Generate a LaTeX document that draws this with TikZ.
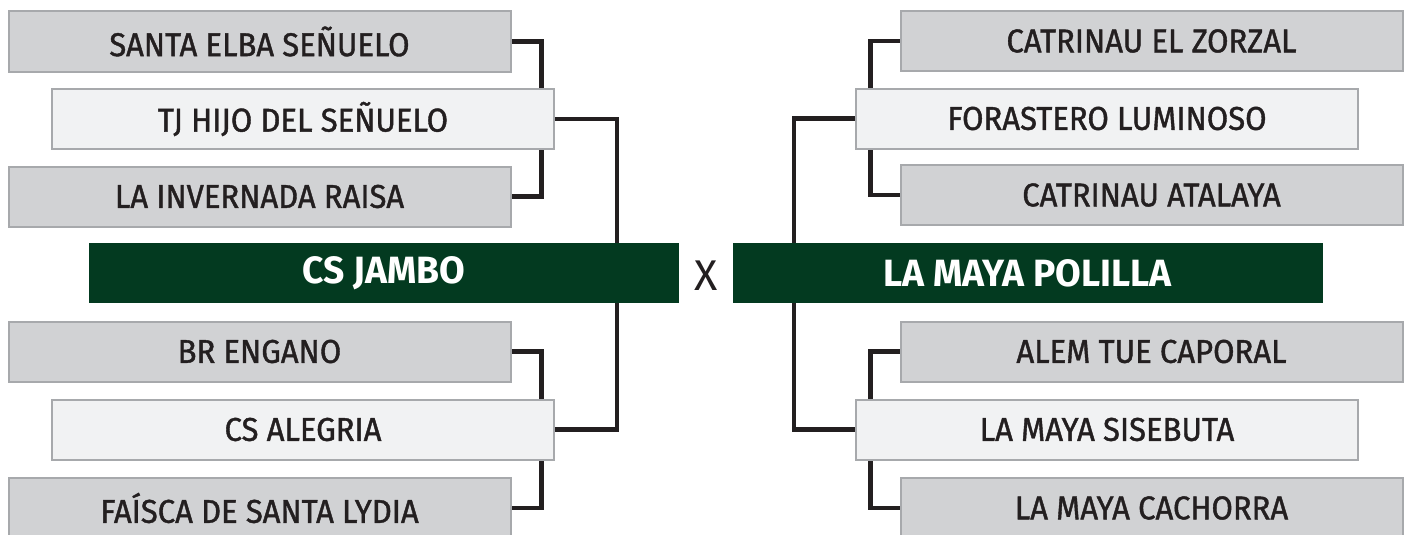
\documentclass[tikz,border=0pt]{standalone}
\usepackage{fontspec}
\setmainfont{Fira Sans}
\newfontfamily\boxfont[FakeStretch=0.94,FakeBold=1.2]{Fira Sans}
\newfontfamily\teamfont[FakeStretch=0.98]{Fira Sans}
\usetikzlibrary{backgrounds}
\definecolor{grayfill}{HTML}{D1D2D4}
\definecolor{lightfill}{HTML}{F1F2F3}
\definecolor{boxline}{HTML}{A7A9AC}
\definecolor{darkgreen}{HTML}{033A20}
\definecolor{txt}{HTML}{231F20}
\begin{document}
\begin{tikzpicture}[x=1pt,y=-1pt,
  every node/.style={inner sep=0pt, outer sep=0pt},
  basebox/.style={draw=boxline, line width=2pt, minimum width=502pt, minimum height=60pt, text=txt, font=\boxfont\fontsize{33}{33}\selectfont},
  gbox/.style={basebox, fill=grayfill},
  lbox/.style={basebox, fill=lightfill},
  dbox/.style={fill=darkgreen, minimum width=590pt, minimum height=60pt, text=white, font=\teamfont\fontsize{38}{38}\selectfont\bfseries},
  conn/.style={draw=txt, line width=4.5pt}]
\useasboundingbox (0,0) rectangle (1410,535);
% left side
\node[gbox] (g1) at (259.5,41.5) {SANTA ELBA SEÑUELO};
\node[lbox] (l1) at (303,119) {TJ HIJO DEL SEÑUELO};
\node[gbox] (g2) at (259.5,196.5) {LA INVERNADA RAISA};
\node[dbox] (d1) at (384,273) {CS JAMBO};
\node[gbox] (g3) at (259.5,351.5) {BR ENGANO};
\node[lbox] (l2) at (303,429.5) {CS ALEGRIA};
\node[gbox] (g4) at (259.5,508) {FAÍSCA DE SANTA LYDIA};
% versus
\node[text=txt, font=\fontsize{43}{43}\selectfont] (vs) at (706,276) {X};
% right side
\node[gbox] (r1) at (1151.5,41) {CATRINAU EL ZORZAL};
\node[lbox] (rl1) at (1107,118.5) {FORASTERO LUMINOSO};
\node[gbox] (r2) at (1151.5,195) {CATRINAU ATALAYA};
\node[dbox] (d2) at (1027.5,273) {LA MAYA POLILLA};
\node[gbox] (r3) at (1151.5,351.5) {ALEM TUE CAPORAL};
\node[lbox] (rl2) at (1107,429.5) {LA MAYA SISEBUTA};
\node[gbox] (r4) at (1151.5,508) {LA MAYA CACHORRA};
\begin{scope}[on background layer]
\draw[conn] (g1.east) -- ++(31,0) |- (g2.east);
\draw[conn] (g3.east) -- ++(31,0) |- (g4.east);
\draw[conn] (l1.east) -- ++(63,0) |- (l2.east);
\draw[conn] (r1.west) -- ++(-30,0) |- (r2.west);
\draw[conn] (r3.west) -- ++(-30,0) |- (r4.west);
\draw[conn] (rl1.west) -- ++(-62,0) |- (rl2.west);
\end{scope}
\end{tikzpicture}
\end{document}
